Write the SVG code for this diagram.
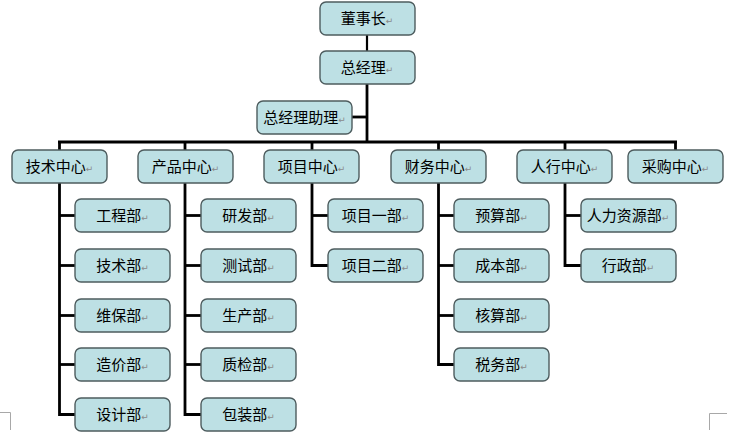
<svg xmlns="http://www.w3.org/2000/svg" width="729" height="440" viewBox="0 0 729 440">
<style>
.box{fill:#bde0e4;stroke:#4d5c5e;stroke-width:1.4}
.t{font-family:"Noto Sans CJK SC","Noto Sans",sans-serif;font-size:15px;fill:#000;text-anchor:middle}
.r{font-family:"DejaVu Sans",sans-serif;font-size:9px;fill:#8a8a8a}
.ln{stroke:#000;stroke-width:2.8;fill:none}
.mk{stroke:#a8a8a8;stroke-width:1;fill:none}
</style>
<defs>
<rect id="b" class="box" x="0" y="0" width="95" height="33" rx="6"/>
</defs>
<rect width="729" height="440" fill="#fff"/>
<g id="connectors">
<line class="ln" x1="367" y1="35" x2="367" y2="51" style="stroke-width:2.2"/>
<line class="ln" x1="367" y1="84" x2="367" y2="143"/>
<line class="ln" x1="352" y1="117" x2="367" y2="117"/>
<line class="ln" x1="58" y1="142" x2="677" y2="142"/>
<line class="ln" x1="59.5" y1="142" x2="59.5" y2="150"/>
<line class="ln" x1="185" y1="142" x2="185" y2="150"/>
<line class="ln" x1="312" y1="142" x2="312" y2="150"/>
<line class="ln" x1="438.5" y1="142" x2="438.5" y2="150"/>
<line class="ln" x1="565" y1="142" x2="565" y2="150"/>
<line class="ln" x1="675.5" y1="142" x2="675.5" y2="150"/>
<polyline class="ln" points="59.5,183 59.5,414.5 75,414.5"/>
<line class="ln" x1="59.5" y1="215.5" x2="75" y2="215.5"/>
<line class="ln" x1="59.5" y1="265.5" x2="75" y2="265.5"/>
<line class="ln" x1="59.5" y1="315.5" x2="75" y2="315.5"/>
<line class="ln" x1="59.5" y1="364.5" x2="75" y2="364.5"/>
<polyline class="ln" points="185,183 185,414.5 201,414.5"/>
<line class="ln" x1="185" y1="215.5" x2="201" y2="215.5"/>
<line class="ln" x1="185" y1="265.5" x2="201" y2="265.5"/>
<line class="ln" x1="185" y1="315.5" x2="201" y2="315.5"/>
<line class="ln" x1="185" y1="364.5" x2="201" y2="364.5"/>
<polyline class="ln" points="312,183 312,265.5 328,265.5"/>
<line class="ln" x1="312" y1="215.5" x2="328" y2="215.5"/>
<polyline class="ln" points="438.5,183 438.5,364.5 454,364.5"/>
<line class="ln" x1="438.5" y1="215.5" x2="454" y2="215.5"/>
<line class="ln" x1="438.5" y1="265.5" x2="454" y2="265.5"/>
<line class="ln" x1="438.5" y1="315.5" x2="454" y2="315.5"/>
<polyline class="ln" points="565,183 565,265.5 581,265.5"/>
<line class="ln" x1="565" y1="215.5" x2="581" y2="215.5"/>
</g>
<g id="marks">
<polyline class="mk" points="0,412.5 10.5,412.5 10.5,430"/>
<polyline class="mk" points="727,413.5 709.5,413.5 709.5,430"/>
</g>
<g id="n-dsz"><use href="#b" x="320" y="2"/><text class="t" x="367" y="24">董事长<tspan class="r">↵</tspan></text></g>
<g id="n-zjl"><use href="#b" x="320" y="51"/><text class="t" x="367" y="73">总经理<tspan class="r">↵</tspan></text></g>
<g id="n-zl"><use href="#b" x="257" y="101"/><text class="t" x="304.5" y="123">总经理助理<tspan class="r">↵</tspan></text></g>
<g id="n-js"><use href="#b" x="12" y="150"/><text class="t" x="59.5" y="172">技术中心<tspan class="r">↵</tspan></text></g>
<g id="n-cp"><use href="#b" x="138" y="150"/><text class="t" x="185.5" y="172">产品中心<tspan class="r">↵</tspan></text></g>
<g id="n-xm"><use href="#b" x="264" y="150"/><text class="t" x="311.5" y="172">项目中心<tspan class="r">↵</tspan></text></g>
<g id="n-cw"><use href="#b" x="391" y="150"/><text class="t" x="438.5" y="172">财务中心<tspan class="r">↵</tspan></text></g>
<g id="n-rx"><use href="#b" x="517" y="150"/><text class="t" x="564.5" y="172">人行中心<tspan class="r">↵</tspan></text></g>
<g id="n-cg"><use href="#b" x="628" y="150"/><text class="t" x="675.5" y="172">采购中心<tspan class="r">↵</tspan></text></g>
<g id="n-gc"><use href="#b" x="75" y="199"/><text class="t" x="122.5" y="221">工程部<tspan class="r">↵</tspan></text></g>
<g id="n-jsb"><use href="#b" x="75" y="249"/><text class="t" x="122.5" y="271">技术部<tspan class="r">↵</tspan></text></g>
<g id="n-wb"><use href="#b" x="75" y="299"/><text class="t" x="122.5" y="321">维保部<tspan class="r">↵</tspan></text></g>
<g id="n-zj"><use href="#b" x="75" y="348"/><text class="t" x="122.5" y="370">造价部<tspan class="r">↵</tspan></text></g>
<g id="n-sj"><use href="#b" x="75" y="398"/><text class="t" x="122.5" y="420">设计部<tspan class="r">↵</tspan></text></g>
<g id="n-yf"><use href="#b" x="201" y="199"/><text class="t" x="248.5" y="221">研发部<tspan class="r">↵</tspan></text></g>
<g id="n-cs"><use href="#b" x="201" y="249"/><text class="t" x="248.5" y="271">测试部<tspan class="r">↵</tspan></text></g>
<g id="n-sc"><use href="#b" x="201" y="299"/><text class="t" x="248.5" y="321">生产部<tspan class="r">↵</tspan></text></g>
<g id="n-zjb"><use href="#b" x="201" y="348"/><text class="t" x="248.5" y="370">质检部<tspan class="r">↵</tspan></text></g>
<g id="n-bz"><use href="#b" x="201" y="398"/><text class="t" x="248.5" y="420">包装部<tspan class="r">↵</tspan></text></g>
<g id="n-xm1"><use href="#b" x="328" y="199"/><text class="t" x="375.5" y="221">项目一部<tspan class="r">↵</tspan></text></g>
<g id="n-xm2"><use href="#b" x="328" y="249"/><text class="t" x="375.5" y="271">项目二部<tspan class="r">↵</tspan></text></g>
<g id="n-ys"><use href="#b" x="454" y="199"/><text class="t" x="501.5" y="221">预算部<tspan class="r">↵</tspan></text></g>
<g id="n-cb"><use href="#b" x="454" y="249"/><text class="t" x="501.5" y="271">成本部<tspan class="r">↵</tspan></text></g>
<g id="n-hs"><use href="#b" x="454" y="299"/><text class="t" x="501.5" y="321">核算部<tspan class="r">↵</tspan></text></g>
<g id="n-sw"><use href="#b" x="454" y="348"/><text class="t" x="501.5" y="370">税务部<tspan class="r">↵</tspan></text></g>
<g id="n-rl"><use href="#b" x="581" y="199"/><text class="t" x="628" y="221">人力资源部<tspan class="r">↵</tspan></text></g>
<g id="n-xz"><use href="#b" x="581" y="249"/><text class="t" x="628" y="271">行政部<tspan class="r">↵</tspan></text></g>
</svg>
